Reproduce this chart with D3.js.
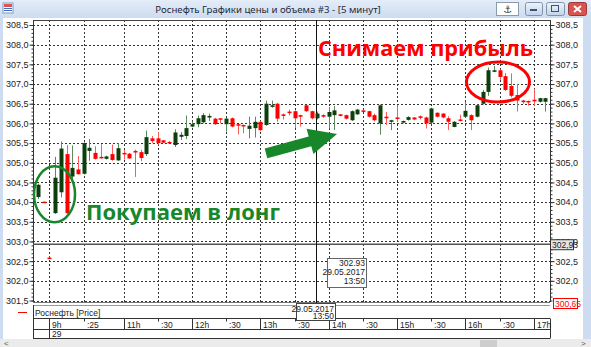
<!DOCTYPE html>
<html>
<head>
<meta charset="utf-8">
<script src="https://cdn.jsdelivr.net/npm/d3@7"></script>
<style>
  body { margin: 0; background: #fff; }
  svg { display: block; font-family: 'Liberation Sans', Arial, sans-serif; }
</style>
</head>
<body>
<script>
// 5-minute candles, one entry per bar
const opens = [304.13, 304.01, 302.59, 303.72, 304.25, 305.22, 304.65, 304.83, 304.72, 305.3,
  305.25, 305.15, 305.1, 305.22, 305.06, 305.25, 305.23, 305.3, 305.27, 305.22,
  305.62, 305.62, 305.57, 305.53, 305.45, 305.66, 305.68, 305.92, 305.98, 306.03,
  306.15, 306.12, 306.13, 305.98, 306.13, 305.98, 305.96, 305.86, 305.88, 306.04,
  305.96, 306.42, 306.5, 306.23, 306.3, 306.31, 306.21, 306.46, 306.31, 306.13,
  306.21, 306.17, 306.21, 306.23, 306.21, 306.08, 306.23, 306.33, 306.31, 306.21,
  306.0, 306.17, 306.04, 306.15, 306.02, 306.09, 306.15, 306.18, 306.15, 306.02,
  306.27, 306.25, 306.13, 305.91, 306.1, 306.17, 306.21, 306.17, 306.5, 306.8,
  307.31, 307.35, 307.2, 306.95, 306.72, 306.58, 306.57, 306.6, 306.55, 306.55];
const highs = [304.47, 304.02, 302.6, 305.15, 305.54, 305.45, 305.44, 305.17, 305.52, 305.6,
  305.42, 305.47, 305.18, 305.46, 305.5, 305.33, 305.25, 305.33, 305.33, 305.82,
  305.68, 305.78, 305.58, 305.55, 305.85, 305.78, 306.2, 306.05, 306.2, 306.26,
  306.25, 306.14, 306.13, 306.14, 306.15, 305.98, 305.97, 306.17, 306.17, 306.06,
  306.58, 306.58, 306.52, 306.25, 306.35, 306.33, 306.22, 306.47, 306.32, 306.3,
  306.23, 306.42, 306.44, 306.24, 306.22, 306.33, 306.37, 306.35, 306.32, 306.25,
  306.48, 306.29, 306.09, 306.46, 306.07, 306.18, 306.16, 306.2, 306.17, 306.4,
  306.28, 306.26, 306.18, 306.06, 306.22, 306.55, 306.23, 306.48, 306.85, 307.42,
  307.46, 307.37, 307.28, 307.27, 307.0, 306.6, 306.58, 306.88, 306.65, 306.65];
const lows = [304.08, 303.99, 302.57, 303.7, 304.12, 303.7, 304.58, 304.7, 304.7, 305.05,
  305.08, 305.1, 305.08, 305.05, 305.05, 305.08, 305.1, 304.64, 305.04, 305.17,
  305.5, 305.46, 305.5, 305.5, 305.4, 305.58, 305.6, 305.9, 305.9, 306.0,
  306.06, 305.96, 306.0, 305.79, 305.9, 305.72, 305.75, 305.62, 305.64, 305.8,
  305.94, 306.4, 306.04, 306.1, 306.2, 305.88, 305.92, 306.29, 306.1, 306.1,
  306.14, 305.87, 305.83, 306.18, 306.1, 306.06, 306.22, 306.3, 306.15, 306.05,
  305.71, 305.96, 305.83, 306.04, 306.0, 306.07, 306.08, 306.1, 305.87, 305.98,
  306.15, 306.13, 305.83, 305.9, 306.05, 306.15, 305.83, 306.15, 306.48, 306.7,
  307.3, 307.1, 306.82, 306.66, 306.3, 306.5, 306.45, 306.45, 306.53, 306.3];
const closes = [304.44, 304.0, 302.58, 304.62, 305.36, 303.72, 304.87, 304.71, 305.5, 305.38,
  305.1, 305.12, 305.16, 305.07, 305.37, 305.22, 305.11, 305.26, 305.12, 305.65,
  305.55, 305.5, 305.51, 305.51, 305.77, 305.71, 305.88, 305.98, 306.13, 306.21,
  306.19, 305.98, 306.1, 306.12, 305.92, 305.95, 305.93, 305.94, 306.04, 305.83,
  306.5, 306.46, 306.12, 306.19, 306.26, 306.13, 306.17, 306.31, 306.13, 306.25,
  306.17, 306.29, 306.33, 306.19, 306.12, 306.31, 306.35, 306.31, 306.17, 306.08,
  306.46, 306.13, 306.08, 306.12, 306.06, 306.16, 306.1, 306.14, 306.0, 306.38,
  306.17, 306.15, 306.04, 306.04, 306.07, 306.32, 306.08, 306.46, 306.8, 307.35,
  307.35, 307.18, 306.85, 306.7, 306.58, 306.54, 306.54, 306.56, 306.64, 306.64];

// time axis: bar index of each tick and its label
const timeTickIdx = [2, 8, 15, 21, 27, 33, 39, 45, 51, 57, 63, 69, 75, 81, 87];
const timeTickLabels = ['9h', ':25', '11h', ':30', '12h', ':30', '13h', ':30', '14h', ':30', '15h', ':30', '16h', ':30', '17h'];
const dateLabel = '29';
const priceTicks = [301.5, 302, 302.5, 303, 303.5, 304, 304.5, 305, 305.5, 306, 306.5, 307, 307.5, 308, 308.5];

// crosshair and last price
const crossIdx = 49;
const crossPrice = 302.93;
const crossDate = '29.05.2017';
const crossTime = '13:50';
const lastPrice = 300.65;

const width = 591;
const height = 347;
const plot = { left: 33, right: 550, top: 20, bottom: 302 };

const svg = d3.select('body').append('svg').attr('width', width).attr('height', height);

const x = d3.scaleLinear().domain([0, opens.length - 1]).range([38, 545.3]);
const y = d3.scaleLinear().domain([301.5, 308.5]).range([300.5, 25]);

const comma = d3.formatLocale({ decimal: ',', thousands: ' ', grouping: [3], currency: ['', ''] });
const fmt1 = comma.format('.1f');
const fmt2 = comma.format('.2f');

// scale a text so it spans the given width
const fit = (sel, w) => {
  const len = sel.node().getComputedTextLength();
  sel.attr('font-size', parseFloat(sel.attr('font-size')) * w / len);
};

// window chrome
const defs = svg.append('defs');
const tg = defs.append('linearGradient').attr('id', 'titleGrad').attr('x1', 0).attr('y1', 0).attr('x2', 0).attr('y2', 1);
tg.append('stop').attr('offset', 0).attr('stop-color', '#e4edf8');
tg.append('stop').attr('offset', 1).attr('stop-color', '#cddcf0');
svg.append('rect').attr('x', 0).attr('y', 0).attr('width', width).attr('height', 18).attr('fill', 'url(#titleGrad)');
svg.append('rect').attr('x', 0).attr('y', 18).attr('width', 3).attr('height', height - 18).attr('fill', '#cddcf0');
svg.append('rect').attr('x', 583).attr('y', 18).attr('width', 8).attr('height', height - 18).attr('fill', '#cddcf0');

// app icon
svg.append('rect').attr('x', 3).attr('y', 3).attr('width', 10).attr('height', 10).attr('fill', '#fff').attr('stroke', '#7a9cc8');
svg.append('rect').attr('x', 4).attr('y', 4).attr('width', 8).attr('height', 3).attr('fill', '#e05050');
svg.append('rect').attr('x', 4).attr('y', 8).attr('width', 8).attr('height', 1).attr('fill', '#4070c0');
svg.append('rect').attr('x', 4).attr('y', 10).attr('width', 8).attr('height', 1).attr('fill', '#4070c0');

const title = svg.append('text')
  .attr('x', 268).attr('y', 13)
  .attr('text-anchor', 'middle')
  .attr('font-family', 'Noto Sans, sans-serif')
  .attr('font-size', 11)
  .attr('fill', '#1e2a3a')
  .text('Роснефть Графики цены и объема #3 - [5 минут]');
fit(title, 226);

// title bar buttons
svg.append('rect').attr('x', 496.5).attr('y', 2.5).attr('width', 22).attr('height', 13).attr('fill', '#fff').attr('stroke', '#8a9bb0');
svg.append('text').attr('x', 507.5).attr('y', 13).attr('text-anchor', 'middle').attr('font-size', 10)
  .attr('font-family', 'DejaVu Sans').attr('fill', '#333').text('⚓');
const bg = defs.append('linearGradient').attr('id', 'btnGrad').attr('x1', 0).attr('y1', 0).attr('x2', 0).attr('y2', 1);
bg.append('stop').attr('offset', 0).attr('stop-color', '#eef3fa');
bg.append('stop').attr('offset', 1).attr('stop-color', '#c3d3e8');
[[525, 17], [546, 18]].forEach(([bx, bw]) => {
  svg.append('rect').attr('x', bx + 0.5).attr('y', 2.5).attr('width', bw).attr('height', 13).attr('rx', 2)
    .attr('fill', 'url(#btnGrad)').attr('stroke', '#7f93ad');
});
svg.append('rect').attr('x', 530).attr('y', 9).attr('width', 7).attr('height', 2).attr('fill', '#40507a');
svg.append('rect').attr('x', 551.5).attr('y', 5.5).attr('width', 7).attr('height', 6).attr('fill', 'none').attr('stroke', '#40507a');
svg.append('rect').attr('x', 568.5).attr('y', 2.5).attr('width', 18).attr('height', 13).attr('rx', 2)
  .attr('fill', '#d9534f').attr('stroke', '#9a3a36');
svg.append('path').attr('d', 'M574,6 L581,12 M581,6 L574,12').attr('stroke', '#fff').attr('stroke-width', 2);

// grid
const gridG = svg.append('g');
gridG.selectAll('line.h')
  .data(priceTicks)
  .enter()
  .append('line')
  .attr('x1', plot.left).attr('x2', plot.right)
  .attr('y1', (d) => Math.round(y(d)) + 0.5).attr('y2', (d) => Math.round(y(d)) + 0.5)
  .attr('stroke', '#333').attr('stroke-dasharray', '2,2');
gridG.selectAll('line.v')
  .data(timeTickIdx)
  .enter()
  .append('line')
  .attr('x1', (d) => Math.round(x(d)) + 0.5).attr('x2', (d) => Math.round(x(d)) + 0.5)
  .attr('y1', plot.top).attr('y2', plot.bottom)
  .attr('stroke', '#333').attr('stroke-dasharray', '2,2');

// plot frame
svg.append('line').attr('x1', plot.left).attr('x2', plot.right).attr('y1', plot.top + 0.5).attr('y2', plot.top + 0.5).attr('stroke', '#444');
svg.append('line').attr('x1', plot.left).attr('x2', plot.right).attr('y1', plot.bottom + 0.5).attr('y2', plot.bottom + 0.5).attr('stroke', '#777');

// price axes (major + minor ticks); the lowest right label sits under the last-price box
const minor = d3.range(3015, 3086).map((d) => d / 10);
const styleAxis = (g) => {
  g.selectAll('text').attr('font-size', 9).attr('fill', '#222').attr('font-family', 'Liberation Sans, Arial');
  g.selectAll('line').attr('stroke', '#333');
  g.select('.domain').remove();
};
svg.append('g')
  .attr('transform', `translate(${plot.left + 0.5},0)`)
  .call(d3.axisLeft(y).tickValues(minor).tickSize(2).tickFormat(''))
  .call(styleAxis);
svg.append('g')
  .attr('transform', `translate(${plot.left + 0.5},0)`)
  .call(d3.axisLeft(y).tickValues(priceTicks).tickSize(4).tickPadding(1).tickFormat(fmt1))
  .call(styleAxis);
svg.append('g')
  .attr('transform', `translate(${plot.right + 0.5},0)`)
  .call(d3.axisRight(y).tickValues(minor).tickSize(2).tickFormat(''))
  .call(styleAxis);
svg.append('g')
  .attr('transform', `translate(${plot.right + 0.5},0)`)
  .call(d3.axisRight(y).tickValues(priceTicks.slice(1)).tickSize(4).tickPadding(1).tickFormat(fmt1))
  .call(styleAxis);
svg.append('line').attr('x1', plot.left + 0.5).attr('x2', plot.left + 0.5).attr('y1', plot.top).attr('y2', plot.bottom).attr('stroke', '#333');
svg.append('line').attr('x1', plot.right + 0.5).attr('x2', plot.right + 0.5).attr('y1', plot.top).attr('y2', plot.bottom).attr('stroke', '#333');

// crosshair lines
svg.append('line')
  .attr('x1', plot.left).attr('x2', plot.right)
  .attr('y1', y(crossPrice)).attr('y2', y(crossPrice))
  .attr('stroke', '#555').attr('stroke-width', 1.5);
svg.append('line')
  .attr('x1', Math.round(x(crossIdx)) - 0.5).attr('x2', Math.round(x(crossIdx)) - 0.5)
  .attr('y1', plot.top).attr('y2', plot.bottom + 2)
  .attr('stroke', '#111');

// candles
const bars = d3.range(opens.length).map((i) => ({ i, o: opens[i], h: highs[i], l: lows[i], c: closes[i] }));
const up = (d) => d.c >= d.o;
const candleG = svg.append('g');
candleG.selectAll('line')
  .data(bars)
  .enter()
  .append('line')
  .attr('x1', (d) => Math.round(x(d.i)) + 0.5).attr('x2', (d) => Math.round(x(d.i)) + 0.5)
  .attr('y1', (d) => y(d.h)).attr('y2', (d) => y(d.l))
  .attr('stroke', (d) => (up(d) ? '#5d8a5d' : '#ff5a5a'));
candleG.selectAll('rect')
  .data(bars)
  .enter()
  .append('rect')
  .attr('x', (d) => Math.round(x(d.i)) - 1.5)
  .attr('y', (d) => y(Math.max(d.o, d.c)))
  .attr('width', 4)
  .attr('height', (d) => Math.max(1.5, Math.abs(y(d.o) - y(d.c))))
  .attr('fill', (d) => (up(d) ? '#0c3f0c' : '#ff0000'));

// annotations
const green = '#17872a';
const red = '#ff0000';
svg.append('ellipse')
  .attr('cx', x(2.9)).attr('cy', y(304.2)).attr('rx', 20.5).attr('ry', 28)
  .attr('fill', 'none').attr('stroke', green).attr('stroke-width', 2.5);
svg.append('ellipse')
  .attr('cx', x(80.7)).attr('cy', y(307.05)).attr('rx', 31.5).attr('ry', 20)
  .attr('fill', 'none').attr('stroke', red).attr('stroke-width', 3);

// arrow from bar 40 towards bar 52
const p0 = [x(40), y(305.24)];
const tip = [x(52.46), y(305.73)];
const len = Math.hypot(tip[0] - p0[0], tip[1] - p0[1]);
const u = [(tip[0] - p0[0]) / len, (tip[1] - p0[1]) / len];
const n = [-u[1], u[0]];
const at = (s, w) => [p0[0] + u[0] * s + n[0] * w, p0[1] + u[1] * s + n[1] * w];
const headLen = 28;
const arrowPts = [at(0, -5), at(len - headLen, -5), at(len - headLen, -13), tip,
  at(len - headLen, 13), at(len - headLen, 5), at(0, 5)];
svg.append('polygon').attr('points', arrowPts.map((p) => p.join(',')).join(' ')).attr('fill', green);

const sell = svg.append('text')
  .attr('x', 318).attr('y', 56)
  .attr('font-family', 'Open Sans, sans-serif').attr('font-weight', 'bold')
  .attr('font-size', 24).attr('fill', red)
  .text('Снимаем прибыль');
fit(sell, 215);
const buy = svg.append('text')
  .attr('x', 86).attr('y', 220)
  .attr('font-family', 'Open Sans, sans-serif').attr('font-weight', 'bold')
  .attr('font-size', 24).attr('fill', green)
  .text('Покупаем в лонг');
fit(buy, 194);

// crosshair tooltip
const tx = Math.round(x(crossIdx)) + 10;
svg.append('rect').attr('x', tx + 0.5).attr('y', 258.5).attr('width', 39).attr('height', 29)
  .attr('fill', '#fff').attr('stroke', '#666');
[[comma.format('.2f')(crossPrice).replace(',', '.'), 265.5], [crossDate, 274.5], [crossTime, 283.5]].forEach(([t, ty]) => {
  svg.append('text').attr('x', tx + 38).attr('y', ty).attr('text-anchor', 'end')
    .attr('font-size', 8.5).attr('fill', '#222').text(t);
});

// price labels on the right axis
svg.append('rect').attr('x', plot.right + 0.5).attr('y', y(crossPrice) - 4.5).attr('width', 23).attr('height', 10)
  .attr('fill', '#e4e4e4').attr('stroke', '#333');
svg.append('text').attr('x', plot.right + 2).attr('y', y(crossPrice) + 3.5)
  .attr('font-size', 8.5).attr('fill', '#222').text(fmt2(crossPrice));
svg.append('rect').attr('x', 553.5).attr('y', 298.5).attr('width', 24).attr('height', 10)
  .attr('fill', '#fff').attr('stroke', red);
svg.append('text').attr('x', 555).attr('y', 306.5)
  .attr('font-size', 8.5).attr('fill', red).text(fmt2(lastPrice));

// legend row
svg.append('line').attr('x1', plot.left).attr('x2', plot.right).attr('y1', 305.5).attr('y2', 305.5).attr('stroke', '#999');
svg.append('line').attr('x1', 18).attr('x2', 27).attr('y1', 312.5).attr('y2', 312.5).attr('stroke', red);
svg.append('text').attr('x', 35).attr('y', 315.5).attr('font-size', 8.5).attr('fill', '#222').text('Роснефть [Price]');

// time axis rows
const rowG = svg.append('g').attr('stroke', '#333');
[318.5, 329.5, 338.5].forEach((ry) => {
  rowG.append('line').attr('x1', plot.left).attr('x2', plot.right).attr('y1', ry).attr('y2', ry);
});
rowG.append('line').attr('x1', plot.left + 0.5).attr('x2', plot.left + 0.5).attr('y1', 305).attr('y2', 338.5);
rowG.append('line').attr('x1', 49.5).attr('x2', 49.5).attr('y1', 318.5).attr('y2', 338.5);
rowG.append('line').attr('x1', plot.right + 0.5).attr('x2', plot.right + 0.5).attr('y1', 318.5).attr('y2', 338.5);

const timeTicks = timeTickIdx.map((d, k) => ({ i: d, label: timeTickLabels[k] }));
rowG.selectAll('line.t')
  .data(timeTicks)
  .enter()
  .append('line')
  .attr('x1', (d) => Math.round(x(d.i)) + 0.5).attr('x2', (d) => Math.round(x(d.i)) + 0.5)
  .attr('y1', 318.5)
  .attr('y2', (d) => (d.label.endsWith('h') ? 329.5 : 321.5));
svg.append('g')
  .selectAll('text')
  .data(timeTicks)
  .enter()
  .append('text')
  .attr('x', (d) => Math.round(x(d.i)) + 3)
  .attr('y', 327.5)
  .attr('font-size', 8.5)
  .attr('fill', '#222')
  .text((d) => d.label);
svg.append('text').attr('x', 52).attr('y', 337).attr('font-size', 8.5).attr('fill', '#222').text(dateLabel);

// time tooltip on the axis
const bx = Math.round(x(crossIdx)) - 21;
svg.append('rect').attr('x', bx + 0.5).attr('y', 303.5).attr('width', 39).attr('height', 17)
  .attr('fill', '#fff').attr('stroke', '#444');
svg.append('text').attr('x', bx + 38).attr('y', 311.5).attr('text-anchor', 'end').attr('font-size', 8.5).attr('fill', '#222').text(crossDate);
svg.append('text').attr('x', bx + 38).attr('y', 319).attr('text-anchor', 'end').attr('font-size', 8.5).attr('fill', '#222').text(crossTime);

// scrollbar
svg.append('rect').attr('x', 0).attr('y', 339).attr('width', width).attr('height', 8).attr('fill', '#ebebeb');
svg.append('rect').attr('x', 480).attr('y', 340).attr('width', 17).attr('height', 7).attr('fill', '#cdcdcd');
svg.append('text').attr('x', 4).attr('y', 345.5).attr('font-size', 8).attr('fill', '#555').text('<');
svg.append('text').attr('x', 581).attr('y', 345.5).attr('font-size', 8).attr('fill', '#555').text('>');
</script>
</body>
</html>
